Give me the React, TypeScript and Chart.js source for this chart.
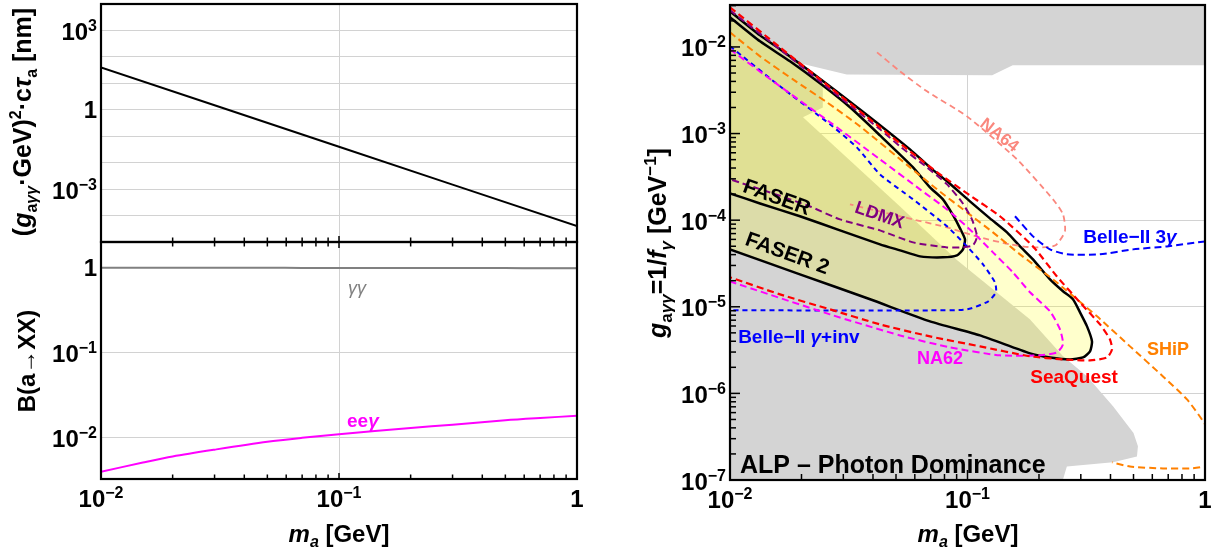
import React, { useEffect, useRef } from "react";
import { Chart, registerables } from "chart.js";

Chart.register(...registerables);

const FONT = '"Liberation Sans", Arimo, Arial, "DejaVu Sans", sans-serif';

// ---------------- data ----------------
const massMajorTicks = [0.01, 0.1, 1];
const massMinorTicks = [0.02, 0.03, 0.04, 0.05, 0.06, 0.07, 0.08, 0.09, 0.2, 0.3, 0.4, 0.5, 0.6, 0.7, 0.8, 0.9];
const massTickLabels: [number, string, string][] = [[0.01, "10", "−2"], [0.1, "10", "−1"], [1, "1", ""]];

// top-left: lifetime
const lifetimeMass = [0.01, 0.03, 0.1, 0.3, 1];
const lifetimeCtau = [40, 1.48, 0.04, 1.48e-3, 4e-5];
const ctauGridValues = [1e-4, 1e-3, 1e-2, 1e-1, 1, 10, 100, 1000];
const ctauTickLabels: [number, string, string][] = [[1000, "10", "3"], [1, "1", ""], [1e-3, "10", "−3"]];

// bottom-left: branching ratios
const brMass = [0.01, 0.015, 0.02, 0.03, 0.05, 0.07, 0.1, 0.2, 0.3, 0.5, 0.7, 1];
const brGammaGamma = [0.996, 0.995, 0.994, 0.993, 0.991, 0.99, 0.989, 0.987, 0.986, 0.984, 0.983, 0.982];
const brEEGamma = [0.0039, 0.005, 0.0059, 0.0071, 0.0088, 0.0098, 0.0108, 0.0128, 0.014, 0.0158, 0.0168, 0.0178];
const brGridValues = [0.01, 0.1, 1];
const brTickLabels: [number, string, string][] = [[1, "1", ""], [0.1, "10", "−1"], [0.01, "10", "−2"]];

// right: coupling reach
const couplingGridValues = [1e-6, 1e-5, 1e-4, 1e-3, 1e-2];
const couplingMajorTicks = [1e-7, 1e-6, 1e-5, 1e-4, 1e-3, 1e-2];
const couplingMinorTicks: number[] = [];
for (let e = -7; e <= -2; e++) for (let k = 2; k <= 9; k++) couplingMinorTicks.push(k * Math.pow(10, e));
const couplingTickLabels: [number, string, string][] = [
  [1e-2, "10", "−2"], [1e-3, "10", "−3"], [1e-4, "10", "−4"], [1e-5, "10", "−5"], [1e-6, "10", "−6"], [1e-7, "10", "−7"],
];

type P = [number, number];
const excludedRegion: P[] = [
  [0.01, 0.0305], [1, 0.0305], [1, 0.00613], [0.155, 0.00613], [0.127, 0.0047], [0.031, 0.0048], [0.0197, 0.0065],
  [0.0246, 0.0038], [0.0246, 0.002], [0.0203, 0.00154], [0.052, 1.44e-4], [0.09, 3.5e-5], [0.183, 7.2e-6],
  [0.252, 2.7e-6], [0.319, 1.57e-6], [0.41, 7.1e-7], [0.5, 3.5e-7], [0.522, 2.45e-7], [0.517, 1.87e-7],
  [0.41, 1.6e-7], [0.262, 1.43e-7], [0.252, 1e-7], [0.01, 1e-7],
];
const faser2: P[] = [
  [0.01, 0.0258], [0.01338, 0.0136], [0.01624, 0.00938], [0.02172, 0.00523], [0.03527, 0.0019], [0.05726, 6.57e-4],
  [0.0695, 4.07e-4], [0.082, 2.81e-4], [0.1024, 1.65e-4], [0.1243, 1.05e-4], [0.1467, 7.23e-5], [0.1664, 4.98e-5],
  [0.1887, 3.53e-5], [0.2226, 2.07e-5], [0.2524, 1.51e-5], [0.278, 1.22e-5], [0.2977, 8.62e-6], [0.3186, 5.94e-6],
  [0.3343, 3.99e-6], [0.328, 3.05e-6], [0.3064, 2.6e-6], [0.2702, 2.47e-6], [0.2226, 2.6e-6], [0.1833, 2.9e-6],
  [0.1129, 4.67e-6], [0.0695, 6.78e-6], [0.0389, 1.22e-5], [0.0197, 2.37e-5], [0.01, 4.6e-5],
];
const faser: P[] = [
  [0.01, 0.022], [0.01338, 0.0116], [0.01789, 0.00682], [0.02393, 0.0038], [0.032, 0.00201], [0.0428, 9.53e-4],
  [0.059, 4.07e-4], [0.0695, 2.39e-4], [0.0788, 1.74e-4], [0.0869, 1.14e-4], [0.093, 8.04e-5], [0.0976, 6.0e-5],
  [0.0957, 4.6e-5], [0.0903, 3.92e-5], [0.0788, 3.72e-5], [0.0631, 3.82e-5], [0.052, 4.48e-5], [0.0428, 5.26e-5],
  [0.02905, 7.62e-5], [0.0197, 1.11e-4], [0.01338, 1.56e-4], [0.01, 2.04e-4],
];
const seaQuest: P[] = [
  [0.01, 0.0287], [0.01624, 0.00989], [0.02637, 0.00342], [0.0428, 0.00118], [0.0573, 6.23e-4], [0.0766, 3.38e-4],
  [0.1024, 1.93e-4], [0.137, 1.11e-4], [0.1887, 4.98e-5], [0.238, 2.24e-5], [0.2977, 1.12e-5], [0.3614, 6.26e-6],
  [0.398, 4.2e-6], [0.406, 3.22e-6], [0.3867, 2.6e-6], [0.328, 2.4e-6], [0.2524, 2.47e-6], [0.1833, 2.68e-6],
  [0.1129, 3.49e-6], [0.0695, 4.55e-6], [0.0428, 6.26e-6], [0.02637, 9.33e-6], [0.01624, 1.39e-5], [0.01, 2.19e-5],
];
const na62: P[] = [
  [0.01, 0.00938], [0.01624, 0.00351], [0.02637, 0.00135], [0.0428, 5.04e-4], [0.0631, 2.27e-4], [0.082, 1.33e-4],
  [0.1055, 7.23e-5], [0.128, 4.25e-5], [0.1554, 2.49e-5], [0.1833, 1.47e-5], [0.2226, 8.85e-6], [0.2452, 5.48e-6],
  [0.2524, 3.68e-6], [0.238, 2.97e-6], [0.202, 2.75e-6], [0.137, 2.75e-6], [0.0844, 3.4e-6], [0.052, 4.67e-6],
  [0.02637, 8.17e-6], [0.01, 1.96e-5],
];
const belleInvisible: P[] = [
  [0.01, 0.0102], [0.01624, 0.00351], [0.02637, 0.00128], [0.0342, 6.93e-4], [0.0428, 3.38e-4], [0.059, 1.74e-4],
  [0.082, 8.48e-5], [0.0995, 4.98e-5], [0.1162, 3.09e-5], [0.1305, 1.91e-5], [0.1318, 1.47e-5], [0.122, 1.15e-5],
  [0.0995, 9.33e-6], [0.0695, 9.09e-6], [0.01, 9.1e-6],
];
const belle3Gamma: P[] = [
  [0.1585, 1.11e-4], [0.1887, 6.5e-5], [0.2226, 4.6e-5], [0.2624, 4.03e-5], [0.3614, 4.03e-5], [0.4975, 4.6e-5],
  [0.692, 4.98e-5], [1, 5.69e-5],
];
const ship: P[] = [
  [0.01, 0.01475], [0.01338, 0.00779], [0.01842, 0.00422], [0.0256, 0.00229], [0.03527, 0.00121], [0.0573, 4.07e-4],
  [0.0744, 2.27e-4], [0.0995, 1.23e-4], [0.128, 7.23e-5], [0.1664, 4.03e-5], [0.2291, 2.07e-5], [0.351, 7.75e-6],
  [0.4833, 3.49e-6], [0.6655, 1.57e-6], [0.8399, 8.52e-7], [1, 4.39e-7], [1.08, 2.5e-7], [1.06, 1.5e-7],
  [1, 1.43e-7], [0.8648, 1.36e-7], [0.6655, 1.36e-7], [0.4833, 1.43e-7], [0.406, 1.6e-7],
];
const ldmx: P[] = [
  [0.01, 0.02646], [0.01624, 0.00938], [0.02637, 0.00324], [0.0428, 0.00112], [0.052, 7.11e-4], [0.0675, 4.07e-4],
  [0.082, 2.59e-4], [0.0948, 1.61e-4], [0.1044, 1.02e-4], [0.1096, 6.5e-5], [0.1055, 5.12e-5], [0.0957, 4.85e-5],
  [0.082, 4.85e-5], [0.059, 5.54e-5], [0.0428, 7.62e-5], [0.02905, 1.02e-4], [0.02172, 1.44e-4], [0.01474, 2.09e-4],
  [0.01, 2.96e-4],
];
const na64: P[] = [
  [0.0416, 0.00866], [0.052, 0.00523], [0.0675, 0.00307], [0.0995, 0.00158], [0.1616, 5.04e-4], [0.2291, 1.74e-4],
  [0.2524, 1.17e-4], [0.2573, 7.42e-5], [0.2336, 5.09e-5], [0.1887, 4.85e-5], [0.151, 5.26e-5], [0.1129, 6.33e-5],
  [0.082, 8.26e-5], [0.059, 1.02e-4], [0.0428, 1.26e-4], [0.032, 1.52e-4],
];

// ---------------- helpers ----------------
type Seg = { t: string; s?: number; it?: boolean; dy?: number; nb?: boolean; c?: string };
const fontOf = (sg: Seg, base: number) =>
  `${sg.it ? "italic " : ""}${sg.nb ? "" : "bold "}${sg.s ?? base}px ${FONT}`;

function drawRich(
  ctx: CanvasRenderingContext2D,
  segs: Seg[],
  x: number,
  y: number,
  o: { size: number; align?: "left" | "center" | "right"; rot?: number; color?: string; mid?: boolean }
) {
  ctx.save();
  ctx.translate(x, y);
  if (o.rot) ctx.rotate((o.rot * Math.PI) / 180);
  const widths = segs.map((sg) => {
    ctx.font = fontOf(sg, o.size);
    return ctx.measureText(sg.t).width;
  });
  const total = widths.reduce((a, b) => a + b, 0);
  let cx = o.align === "right" ? -total : o.align === "left" ? 0 : -total / 2;
  const by = o.mid ? o.size * 0.36 : 0;
  ctx.textBaseline = "alphabetic";
  ctx.textAlign = "left";
  segs.forEach((sg, i) => {
    ctx.font = fontOf(sg, o.size);
    ctx.fillStyle = sg.c || o.color || "#000";
    ctx.fillText(sg.t, cx, by + (sg.dy || 0));
    cx += widths[i];
  });
  ctx.restore();
}

type TickSpec = { axis: "x" | "y"; edge: "top" | "bottom" | "left"; values: number[]; len: number };
type LabelSpec = { axis: "x" | "y"; items: [number, string, string][] };
type Note = { x: number; y: number; segs: Seg[]; size: number; rot?: number; color?: string; align?: "left" | "center" | "right" };
type Title = { px: number; py: number; segs: Seg[]; size: number; rot?: number };

function deco(cfg: { ticks: TickSpec[]; labels: LabelSpec[]; notes: Note[]; titles: Title[] }) {
  return {
    id: "deco",
    afterDatasetsDraw(chart: any) {
      const ctx = chart.ctx as CanvasRenderingContext2D;
      const sx = chart.scales.x, sy = chart.scales.y;
      cfg.notes.forEach((n) => {
        drawRich(ctx, n.segs, sx.getPixelForValue(n.x), sy.getPixelForValue(n.y), {
          size: n.size, rot: n.rot, color: n.color, align: n.align || "center", mid: true,
        });
      });
    },
    afterDraw(chart: any) {
      const ctx = chart.ctx as CanvasRenderingContext2D;
      const a = chart.chartArea;
      const sx = chart.scales.x, sy = chart.scales.y;
      ctx.save();
      ctx.strokeStyle = "#000";
      ctx.lineWidth = 1.5;
      cfg.ticks.forEach((t) => {
        const sc = t.axis === "x" ? sx : sy;
        t.values.forEach((v) => {
          const p = sc.getPixelForValue(v);
          ctx.beginPath();
          if (t.edge === "bottom") { ctx.moveTo(p, a.bottom); ctx.lineTo(p, a.bottom - t.len); }
          else if (t.edge === "top") { ctx.moveTo(p, a.top); ctx.lineTo(p, a.top + t.len); }
          else { ctx.moveTo(a.left, p); ctx.lineTo(a.left + t.len, p); }
          ctx.stroke();
        });
      });
      ctx.lineWidth = 2.2;
      ctx.strokeRect(a.left, a.top, a.right - a.left, a.bottom - a.top);
      ctx.restore();
      cfg.labels.forEach((l) => {
        l.items.forEach(([v, base, sup]) => {
          const segs: Seg[] = sup ? [{ t: base }, { t: sup, s: 16, dy: -9 }] : [{ t: base }];
          if (l.axis === "x") {
            drawRich(ctx, segs, sx.getPixelForValue(v), a.bottom + 28, { size: 24, align: "center" });
          } else {
            drawRich(ctx, segs, a.left - 4, sy.getPixelForValue(v) + (sup ? 9.5 : 8.6), { size: 24, align: "right" });
          }
        });
      });
      cfg.titles.forEach((t) => drawRich(ctx, t.segs, t.px, t.py, { size: t.size, rot: t.rot, mid: true }));
    },
  };
}

function logAxis(min: number, max: number, gridVals: number[], size: number, pos: "left" | "bottom") {
  return {
    type: "logarithmic" as const,
    position: pos,
    min,
    max,
    ticks: { display: false },
    grid: { color: "#d2d2d2", lineWidth: 1, drawTicks: false },
    border: { display: false },
    afterBuildTicks: (axis: any) => {
      axis.ticks = gridVals.map((v) => ({ value: v }));
    },
    afterFit: (axis: any) => {
      if (pos === "left") axis.width = size;
      else axis.height = size;
    },
  };
}

const xy = (xs: number[], ys: number[]) => xs.map((x, i) => ({ x, y: ys[i] }));
const xyPairs = (arr: P[]) => arr.map(([x, y]) => ({ x, y }));

const baseOptions = (padding: any, scales: any) => ({
  responsive: false,
  maintainAspectRatio: false,
  animation: false as const,
  devicePixelRatio: 1,
  events: [] as any[],
  layout: { padding },
  plugins: { legend: { display: false }, tooltip: { enabled: false } },
  scales,
});

const xTitle: Seg[] = [{ t: "m", it: true }, { t: "a", s: 16, dy: 5, it: true }, { t: " [GeV]" }];

function topLeftConfig(): any {
  return {
    type: "line",
    data: {
      datasets: [
        { data: xy(lifetimeMass, lifetimeCtau), borderColor: "#000", borderWidth: 2, pointRadius: 0, tension: 0, fill: false },
      ],
    },
    options: baseOptions({ top: 4, right: 23, left: 0, bottom: 0 }, {
      x: logAxis(0.01, 1, [0.1], 8, "bottom"),
      y: logAxis(1e-5, 1e4, ctauGridValues, 101, "left"),
    }),
    plugins: [
      deco({
        ticks: [
          { axis: "x", edge: "bottom", values: massMajorTicks, len: 6 },
          { axis: "x", edge: "bottom", values: massMinorTicks, len: 4.5 },
        ],
        labels: [{ axis: "y", items: ctauTickLabels }],
        notes: [],
        titles: [
          {
            px: 22, py: 122, rot: -90, size: 25,
            segs: [
              { t: "(" }, { t: "g", it: true }, { t: "a", s: 16, dy: 6 }, { t: "γγ", s: 16, dy: 6, it: true },
              { t: "·GeV)" }, { t: "2", s: 16, dy: -10 }, { t: "·c" }, { t: "τ", it: true },
              { t: "a", s: 16, dy: 6 }, { t: " [nm]" },
            ],
          },
        ],
      }),
    ],
  };
}

function bottomLeftConfig(): any {
  return {
    type: "line",
    data: {
      datasets: [
        { data: xy(brMass, brGammaGamma), borderColor: "#808080", borderWidth: 2, pointRadius: 0, tension: 0.3, fill: false },
        { data: xy(brMass, brEEGamma), borderColor: "#ff00ff", borderWidth: 2, pointRadius: 0, tension: 0.3, fill: false },
      ],
    },
    options: baseOptions({ top: 6, right: 23, left: 0, bottom: 0 }, {
      x: logAxis(0.01, 1, [0.1], 73, "bottom"),
      y: logAxis(0.0032, 2, brGridValues, 101, "left"),
    }),
    plugins: [
      deco({
        ticks: [
          { axis: "x", edge: "bottom", values: massMajorTicks, len: 6 },
          { axis: "x", edge: "bottom", values: massMinorTicks, len: 4.5 },
          { axis: "x", edge: "top", values: massMajorTicks, len: 6 },
          { axis: "x", edge: "top", values: massMinorTicks, len: 4.5 },
        ],
        labels: [
          { axis: "y", items: brTickLabels },
          { axis: "x", items: massTickLabels },
        ],
        notes: [
          { x: 0.119, y: 0.586, size: 18, color: "#808080", segs: [{ t: "γγ", it: true, nb: true }] },
          { x: 0.126, y: 0.016, size: 19, color: "#ff00ff", segs: [{ t: "ee" }, { t: "γ", it: true }] },
        ],
        titles: [
          { px: 26, py: 125, rot: -90, size: 24, segs: [{ t: "B(a→XX)" }] },
          { px: 339, py: 297, size: 24, segs: xTitle },
        ],
      }),
    ],
  };
}

function rightConfig(): any {
  const line = (data: P[], color: string, width: number, dash: number[], order: number) => ({
    data: xyPairs(data), borderColor: color, borderWidth: width, borderDash: dash, pointRadius: 0,
    tension: 0.2, fill: false, order,
  });
  const salmon = "rgb(250,135,125)";
  return {
    type: "line",
    data: {
      datasets: [
        { data: xyPairs(excludedRegion), fill: "shape", backgroundColor: "#d4d4d4", borderColor: "rgba(0,0,0,0)", borderWidth: 0, pointRadius: 0, tension: 0, order: 20 },
        { data: xyPairs(faser2), fill: "shape", backgroundColor: "rgba(255,255,0,0.2)", borderColor: "#000", borderWidth: 2.5, pointRadius: 0, tension: 0.2, order: 19 },
        { data: xyPairs(faser), fill: "shape", backgroundColor: "rgba(255,255,0,0.12)", borderColor: "#000", borderWidth: 2.5, pointRadius: 0, tension: 0.2, order: 18 },
        line(na64, salmon, 1.8, [6, 4], 9),
        line(ship, "#ff8000", 2, [7, 4], 8),
        line(belleInvisible, "#0000ff", 2, [5, 4], 7),
        line(belle3Gamma, "#0000ff", 2, [7, 4], 7),
        line(na62, "#ff00ff", 2, [7, 4], 6),
        line(ldmx, "#800080", 2, [7, 4], 5),
        line(seaQuest, "#ff0000", 2.2, [7, 4], 4),
      ],
    },
    options: baseOptions({ top: 5, right: 12, left: 0, bottom: 0 }, {
      x: logAxis(0.01, 1, [0.1], 72, "bottom"),
      y: logAxis(1e-7, 0.0305, couplingGridValues, 130, "left"),
    }),
    plugins: [
      deco({
        ticks: [
          { axis: "x", edge: "bottom", values: massMajorTicks, len: 10 },
          { axis: "x", edge: "bottom", values: massMinorTicks, len: 6 },
          { axis: "y", edge: "left", values: couplingMajorTicks, len: 10 },
          { axis: "y", edge: "left", values: couplingMinorTicks, len: 6 },
        ],
        labels: [
          { axis: "y", items: couplingTickLabels },
          { axis: "x", items: massTickLabels },
        ],
        notes: [
          { x: 0.0158, y: 1.88e-4, rot: 20, size: 21, segs: [{ t: "FASER" }] },
          { x: 0.0175, y: 4.25e-5, rot: 20, size: 21, segs: [{ t: "FASER 2" }] },
          { x: 0.0428, y: 1.17e-4, rot: 19, size: 18, color: "#800080", segs: [{ t: "LDMX" }] },
          { x: 0.137, y: 9.8e-4, rot: 38, size: 17, color: salmon, segs: [{ t: "NA64" }] },
          { x: 0.483, y: 6.5e-5, size: 19, color: "#0000ff", segs: [{ t: "Belle−II 3" }, { t: "γ", it: true }] },
          { x: 0.0195, y: 4.55e-6, size: 19, color: "#0000ff", segs: [{ t: "Belle−II " }, { t: "γ", it: true }, { t: "+inv" }] },
          { x: 0.0766, y: 2.6e-6, size: 18, color: "#ff00ff", segs: [{ t: "NA62" }] },
          { x: 0.281, y: 1.57e-6, size: 19, color: "#ff0000", segs: [{ t: "SeaQuest" }] },
          { x: 0.699, y: 3.31e-6, size: 18, color: "#ff8000", segs: [{ t: "SHiP" }] },
          { x: 0.01102, y: 1.51e-7, size: 25, align: "left", segs: [{ t: "ALP – Photon Dominance" }] },
        ],
        titles: [
          {
            px: 57, py: 243, rot: -90, size: 25,
            segs: [
              { t: "g", it: true }, { t: "a", s: 17, dy: 6 }, { t: "γγ", s: 17, dy: 6, it: true }, { t: "=1/" },
              { t: "f", it: true }, { t: "γ", s: 17, dy: 6, it: true }, { t: " [GeV" }, { t: "−1", s: 17, dy: -10 },
              { t: "]" },
            ],
          },
          { px: 368, py: 533, size: 24, segs: xTitle },
        ],
      }),
    ],
  };
}

export default function App() {
  const r1 = useRef<HTMLCanvasElement>(null);
  const r2 = useRef<HTMLCanvasElement>(null);
  const r3 = useRef<HTMLCanvasElement>(null);
  useEffect(() => {
    const charts = [
      new Chart(r1.current!, topLeftConfig()),
      new Chart(r2.current!, bottomLeftConfig()),
      new Chart(r3.current!, rightConfig()),
    ];
    return () => charts.forEach((c) => c.destroy());
  }, []);
  return (
    <div style={{ position: "absolute", left: 0, top: 0, width: 1217, height: 552, background: "#fff" }}>
      <canvas ref={r1} width={600} height={250} style={{ position: "absolute", left: 0, top: 0 }} />
      <canvas ref={r2} width={600} height={316} style={{ position: "absolute", left: 0, top: 236 }} />
      <canvas ref={r3} width={617} height={552} style={{ position: "absolute", left: 600, top: 0 }} />
    </div>
  );
}
